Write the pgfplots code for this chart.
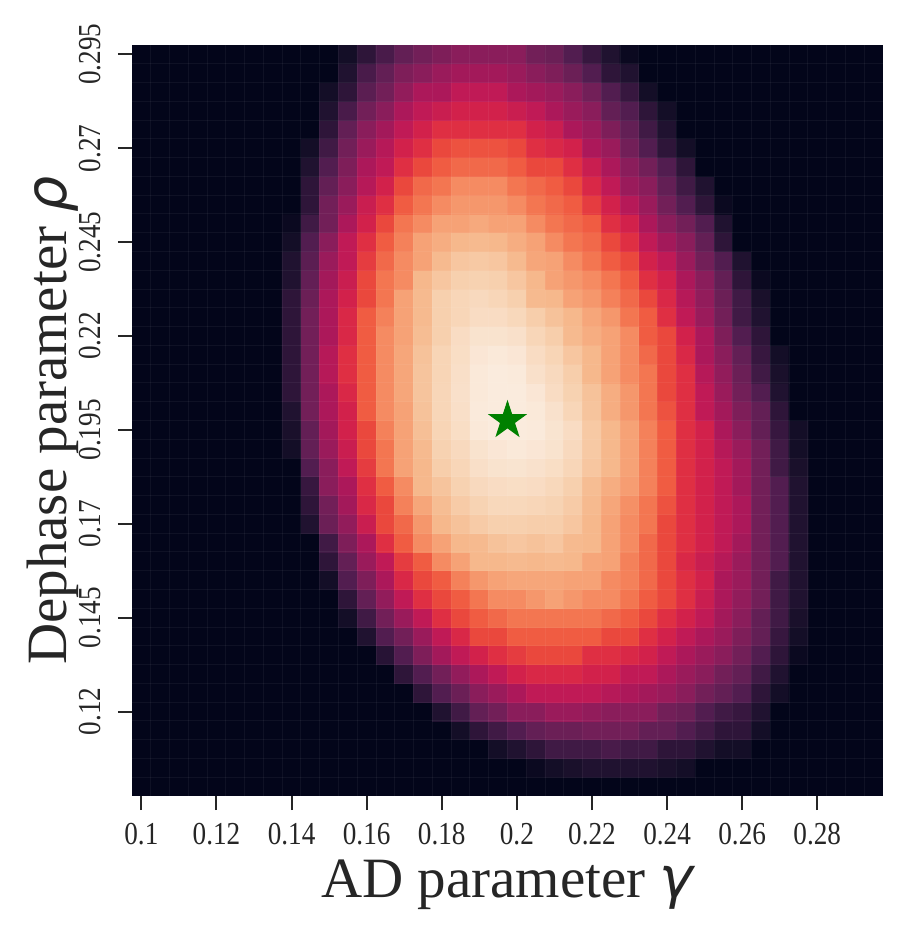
\documentclass[border=0pt]{standalone}
\usepackage{fontspec}
\usepackage{pgfplots}
\pgfplotsset{compat=1.18}
\setmainfont{Liberation Serif}
\newfontfamily\tickfont[FakeStretch=0.85]{Liberation Serif}
\newfontfamily\greekfont{DejaVu Sans}
\definecolor{txt}{HTML}{262626}
\definecolor{bgdark}{RGB}{3,5,26}
\definecolor{stargreen}{HTML}{008000}
\pgfdeclareplotmark{fstar}{%
 \pgfpathmoveto{\pgfpointpolar{90}{\pgfplotmarksize}}%
 \pgfpathlineto{\pgfpointpolar{126}{0.382\pgfplotmarksize}}%
 \pgfpathlineto{\pgfpointpolar{162}{\pgfplotmarksize}}%
 \pgfpathlineto{\pgfpointpolar{198}{0.382\pgfplotmarksize}}%
 \pgfpathlineto{\pgfpointpolar{234}{\pgfplotmarksize}}%
 \pgfpathlineto{\pgfpointpolar{270}{0.382\pgfplotmarksize}}%
 \pgfpathlineto{\pgfpointpolar{306}{\pgfplotmarksize}}%
 \pgfpathlineto{\pgfpointpolar{342}{0.382\pgfplotmarksize}}%
 \pgfpathlineto{\pgfpointpolar{18}{\pgfplotmarksize}}%
 \pgfpathlineto{\pgfpointpolar{54}{0.382\pgfplotmarksize}}%
 \pgfpathclose
 \pgfusepathqfillstroke
}
\begin{document}
\begin{tikzpicture}
\useasboundingbox (-66pt,-65.5pt) rectangle (384pt,398pt);
\begin{axis}[
  at={(0,0)}, anchor=south west,
  scale only axis, width=375.5pt, height=375.5pt,
  xmin=-0.5, xmax=39.5, ymin=-0.5, ymax=39.5,
  enlargelimits=false,
  axis background/.style={fill=bgdark},
  axis line style={draw=none},
  colormap={rocket}{rgb255=(3,5,26) rgb255=(20,14,39) rgb255=(32,18,48) rgb255=(46,21,57) rgb255=(64,26,69) rgb255=(82,29,80) rgb255=(99,31,85) rgb255=(114,31,88) rgb255=(138,29,91) rgb255=(154,27,91) rgb255=(172,24,90) rgb255=(192,26,86) rgb255=(210,33,75) rgb255=(223,47,67) rgb255=(234,72,61) rgb255=(240,92,66) rgb255=(243,118,81) rgb255=(245,139,98) rgb255=(246,162,118) rgb255=(246,184,140) rgb255=(247,208,174) rgb255=(249,223,200) rgb255=(250,235,221)},
  point meta min=0, point meta max=22,
  xtick={0,4,...,36},
  xticklabels={0.1,0.12,0.14,0.16,0.18,0.2,0.22,0.24,0.26,0.28},
  ytick={4,9,...,39},
  yticklabels={0.12,0.145,0.17,0.195,0.22,0.245,0.27,0.295},
  minor xtick={0.5,1.5,...,38.5},
  minor ytick={0.5,1.5,...,38.5},
  minor tick length=0pt,
  xminorgrids=true, yminorgrids=true,
  minor grid style={white, opacity=0.05, line width=0.5pt},
  tick align=outside,
  tick pos=left,
  major tick length=7pt,
  tick style={color=txt, line width=1pt},
  axis on top,
  ticklabel style={font=\tickfont\fontsize{16}{16}\selectfont, text=txt},
  yticklabel style={rotate=90, anchor=south},
  xticklabel style={anchor=north},
  xticklabel shift=3pt,
  yticklabel shift=5pt,
  xlabel={AD parameter {\greekfont\itshape γ}},
  ylabel={Dephase parameter {\greekfont\itshape ρ}},
  label style={font=\fontsize{28.5}{30}\selectfont, text=txt},
  xlabel style={at={(axis description cs:0.5,-0.1358)}, anchor=base},
  ylabel style={at={(axis description cs:-0.0866,0.5)}, rotate=0, anchor=base},
]
\addplot[matrix plot*, mesh/cols=28, point meta=explicit] table[meta=v, row sep=\\] {
x y v\\
8 1 0\\9 1 0\\10 1 0\\11 1 0\\12 1 0\\13 1 0\\14 1 0\\15 1 0\\16 1 0\\17 1 0\\18 1 0\\19 1 0\\20 1 0\\21 1 0.5\\22 1 1\\23 1 1.5\\24 1 2\\25 1 2\\26 1 2\\27 1 2\\28 1 1.5\\29 1 1\\30 1 0\\31 1 0\\32 1 0\\33 1 0\\34 1 0\\35 1 0\\
8 2 0\\9 2 0\\10 2 0\\11 2 0\\12 2 0\\13 2 0\\14 2 0\\15 2 0\\16 2 0\\17 2 0\\18 2 0\\19 2 1\\20 2 2\\21 2 3\\22 2 4\\23 2 4\\24 2 4\\25 2 4.5\\26 2 4\\27 2 4\\28 2 3\\29 2 3\\30 2 2\\31 2 1\\32 2 1\\33 2 0\\34 2 0\\35 2 0\\
8 3 0\\9 3 0\\10 3 0\\11 3 0\\12 3 0\\13 3 0\\14 3 0\\15 3 0\\16 3 0\\17 3 1\\18 3 3\\19 3 4\\20 3 5\\21 3 6\\22 3 6.5\\23 3 6.5\\24 3 7\\25 3 7\\26 3 7\\27 3 6\\28 3 6\\29 3 5\\30 3 4\\31 3 3\\32 3 3\\33 3 1\\34 3 0\\35 3 0\\
8 4 0\\9 4 0\\10 4 0\\11 4 0\\12 4 0\\13 4 0\\14 4 0\\15 4 0\\16 4 2\\17 4 4\\18 4 6\\19 4 7\\20 4 8\\21 4 8\\22 4 9\\23 4 9\\24 4 8.5\\25 4 8\\26 4 8\\27 4 8\\28 4 7\\29 4 6.5\\30 4 5\\31 4 4\\32 4 3.5\\33 4 2\\34 4 0\\35 4 0\\
8 5 0\\9 5 0\\10 5 0\\11 5 0\\12 5 0\\13 5 0\\14 5 0\\15 5 3\\16 5 5\\17 5 6.5\\18 5 8\\19 5 9\\20 5 10\\21 5 11\\22 5 11\\23 5 11\\24 5 11\\25 5 10.5\\26 5 10\\27 5 9.5\\28 5 9\\29 5 8\\30 5 7\\31 5 6\\32 5 5\\33 5 3\\34 5 1\\35 5 0\\
8 6 0\\9 6 0\\10 6 0\\11 6 0\\12 6 0\\13 6 0\\14 6 3\\15 6 5\\16 6 7\\17 6 8.5\\18 6 10\\19 6 11\\20 6 12\\21 6 12.5\\22 6 12.5\\23 6 12.5\\24 6 12\\25 6 12\\26 6 11\\27 6 11\\28 6 10\\29 6 9\\30 6 8\\31 6 7\\32 6 6\\33 6 4\\34 6 2\\35 6 0\\
8 7 0\\9 7 0\\10 7 0\\11 7 0\\12 7 0\\13 7 2.5\\14 7 5\\15 7 7.5\\16 7 9.5\\17 7 11\\18 7 12\\19 7 13\\20 7 13.5\\21 7 14\\22 7 14\\23 7 14\\24 7 13\\25 7 13\\26 7 12.5\\27 7 12\\28 7 11\\29 7 10\\30 7 9\\31 7 8\\32 7 7\\33 7 5\\34 7 3\\35 7 0.5\\
8 8 0\\9 8 0\\10 8 0\\11 8 0\\12 8 2\\13 8 5\\14 8 7\\15 8 9\\16 8 11\\17 8 12.5\\18 8 14\\19 8 14\\20 8 15\\21 8 15\\22 8 15\\23 8 15\\24 8 15\\25 8 14\\26 8 14\\27 8 13\\28 8 12\\29 8 11\\30 8 10\\31 8 9\\32 8 7.5\\33 8 6\\34 8 3.5\\35 8 1\\
8 9 0\\9 9 0\\10 9 0\\11 9 1\\12 9 4\\13 9 7\\14 9 9\\15 9 11\\16 9 13\\17 9 14\\18 9 15\\19 9 15.5\\20 9 16\\21 9 16\\22 9 16\\23 9 16\\24 9 16\\25 9 15.5\\26 9 15\\27 9 14\\28 9 13\\29 9 12\\30 9 11\\31 9 9.5\\32 9 8\\33 9 6\\34 9 4\\35 9 1.5\\
8 10 0\\9 10 0\\10 10 0\\11 10 3\\12 10 6\\13 10 8.5\\14 10 11\\15 10 13\\16 10 14\\17 10 15\\18 10 16\\19 10 17\\20 10 17\\21 10 17.5\\22 10 18\\23 10 17.5\\24 10 17\\25 10 17\\26 10 16\\27 10 15\\28 10 14\\29 10 13\\30 10 11.5\\31 10 10\\32 10 8.5\\33 10 7\\34 10 4\\35 10 2\\
8 11 0\\9 11 0\\10 11 1\\11 11 5\\12 11 7.5\\13 11 10\\14 11 12.5\\15 11 14\\16 11 15\\17 11 16.5\\18 11 17.5\\19 11 18\\20 11 18.2\\21 11 18.2\\22 11 18.2\\23 11 18\\24 11 18\\25 11 17\\26 11 16.5\\27 11 15.5\\28 11 14\\29 11 13\\30 11 12\\31 11 10\\32 11 9\\33 11 7\\34 11 4\\35 11 2\\
8 12 0\\9 12 0\\10 12 3\\11 12 6\\12 12 9\\13 12 11\\14 12 13.5\\15 12 15\\16 12 17\\17 12 18\\18 12 19\\19 12 19\\20 12 19.1\\21 12 19\\22 12 19.1\\23 12 19\\24 12 18.2\\25 12 18\\26 12 16.5\\27 12 15.5\\28 12 14\\29 12 12.5\\30 12 11.5\\31 12 10.5\\32 12 9\\33 12 7\\34 12 5\\35 12 2\\
8 13 0\\9 13 0\\10 13 4\\11 13 7.5\\12 13 10\\13 13 13\\14 13 15\\15 13 17\\16 13 18\\17 13 19\\18 13 19.1\\19 13 19.4\\20 13 19.6\\21 13 19.4\\22 13 19.6\\23 13 19.1\\24 13 19\\25 13 18\\26 13 17\\27 13 15.5\\28 13 14\\29 13 13\\30 13 12\\31 13 11\\32 13 9.5\\33 13 7\\34 13 5\\35 13 2\\
8 14 0\\9 14 2\\10 14 6.5\\11 14 8.5\\12 14 11.5\\13 14 14\\14 14 15.5\\15 14 17.5\\16 14 19\\17 14 19.4\\18 14 19.8\\19 14 20\\20 14 20\\21 14 19.9\\22 14 19.9\\23 14 19.6\\24 14 19\\25 14 18\\26 14 17\\27 14 16\\28 14 14\\29 14 13\\30 14 12\\31 14 11\\32 14 10\\33 14 7\\34 14 5\\35 14 2\\
8 15 0\\9 15 3\\10 15 7\\11 15 9.5\\12 15 12.5\\13 15 14\\14 15 16.5\\15 15 18.2\\16 15 19.2\\17 15 19.8\\18 15 20.2\\19 15 20.5\\20 15 20.5\\21 15 20.4\\22 15 20.2\\23 15 19.8\\24 15 19.1\\25 15 18.2\\26 15 17.2\\27 15 16\\28 15 14.5\\29 15 13\\30 15 12\\31 15 11\\32 15 10\\33 15 7\\34 15 5\\35 15 2\\
8 16 0\\9 16 3.5\\10 16 8\\11 16 10\\12 16 13\\13 16 15\\14 16 17\\15 16 19\\16 16 19.5\\17 16 20.1\\18 16 20.6\\19 16 20.8\\20 16 20.9\\21 16 20.8\\22 16 20.5\\23 16 20\\24 16 19.2\\25 16 18.5\\26 16 17.8\\27 16 16.5\\28 16 15\\29 16 13\\30 16 12\\31 16 11\\32 16 9.5\\33 16 7\\34 16 5\\35 16 2\\
8 17 0\\9 17 5\\10 17 8\\11 17 11\\12 17 13.5\\13 17 16\\14 17 18\\15 17 19\\16 17 19.9\\17 17 20.4\\18 17 21\\19 17 21.3\\20 17 21.4\\21 17 21.2\\22 17 20.9\\23 17 20.4\\24 17 19.6\\25 17 19\\26 17 18\\27 17 16.5\\28 17 15\\29 17 13\\30 17 12\\31 17 11\\32 17 9.5\\33 17 7\\34 17 4\\35 17 1.5\\
8 18 1\\9 18 6\\10 18 9\\11 18 11.5\\12 18 14\\13 18 16\\14 18 18\\15 18 19.1\\16 18 20.1\\17 18 20.6\\18 18 21.3\\19 18 21.6\\20 18 21.8\\21 18 21.6\\22 18 21.3\\23 18 20.6\\24 18 19.7\\25 18 19\\26 18 18\\27 18 16.5\\28 18 15\\29 18 13\\30 18 12\\31 18 10.5\\32 18 9\\33 18 7\\34 18 4\\35 18 1\\
8 19 1.5\\9 19 6\\10 19 9.5\\11 19 12\\12 19 14\\13 19 16.5\\14 19 18\\15 19 19.3\\16 19 20.3\\17 19 20.9\\18 19 21.8\\19 19 22\\20 19 22\\21 19 21.9\\22 19 21.4\\23 19 20.8\\24 19 19.7\\25 19 19\\26 19 18\\27 19 16.5\\28 19 15\\29 19 13\\30 19 12\\31 19 10\\32 19 8\\33 19 6\\34 19 3.5\\35 19 1\\
8 20 2\\9 20 7\\10 20 10\\11 20 12\\12 20 15\\13 20 17\\14 20 18\\15 20 19.4\\16 20 20.4\\17 20 21\\18 20 21.9\\19 20 22\\20 20 22\\21 20 21.8\\22 20 21.2\\23 20 20.4\\24 20 19.5\\25 20 18.5\\26 20 17.5\\27 20 16\\28 20 14.5\\29 20 13\\30 20 11\\31 20 9.5\\32 20 7.5\\33 20 6\\34 20 3\\35 20 0\\
8 21 3\\9 21 7\\10 21 10\\11 21 12.5\\12 21 15\\13 21 17\\14 21 18.2\\15 21 19.5\\16 21 20.4\\17 21 21.1\\18 21 21.8\\19 21 22\\20 21 22\\21 21 21.6\\22 21 20.8\\23 21 20.1\\24 21 19.4\\25 21 18.5\\26 21 17.5\\27 21 16\\28 21 14\\29 21 13\\30 21 11\\31 21 9\\32 21 7\\33 21 5\\34 21 2\\35 21 0\\
8 22 3\\9 22 7\\10 22 10.5\\11 22 13\\12 22 15\\13 22 17\\14 22 18.2\\15 22 19.5\\16 22 20.3\\17 22 21\\18 22 21.8\\19 22 22\\20 22 21.9\\21 22 21.1\\22 22 20.6\\23 22 19.9\\24 22 19\\25 22 18\\26 22 17\\27 22 16\\28 22 14\\29 22 13\\30 22 10.5\\31 22 8.5\\32 22 6.5\\33 22 4\\34 22 1.5\\35 22 0\\
8 23 3\\9 23 7\\10 23 10.5\\11 23 13\\12 23 15\\13 23 17\\14 23 18.2\\15 23 19.4\\16 23 20.3\\17 23 20.9\\18 23 21.6\\19 23 21.8\\20 23 21.6\\21 23 20.8\\22 23 20.3\\23 23 19.6\\24 23 19\\25 23 18\\26 23 17\\27 23 15.5\\28 23 14\\29 23 12.5\\30 23 10\\31 23 8\\32 23 6\\33 23 3.5\\34 23 1\\35 23 0\\
8 24 3\\9 24 7\\10 24 10\\11 24 12.5\\12 24 15\\13 24 17\\14 24 18\\15 24 19.2\\16 24 20\\17 24 20.8\\18 24 21.3\\19 24 21.3\\20 24 21.1\\21 24 20.4\\22 24 19.9\\23 24 19.1\\24 24 18.5\\25 24 18\\26 24 17\\27 24 15\\28 24 14\\29 24 12\\30 24 10\\31 24 7.5\\32 24 5\\33 24 3\\34 24 0\\35 24 0\\
8 25 3\\9 25 7\\10 25 10\\11 25 12.5\\12 25 15\\13 25 16.5\\14 25 18\\15 25 19.1\\16 25 20\\17 25 20.4\\18 25 20.8\\19 25 20.8\\20 25 20.5\\21 25 19.9\\22 25 19.4\\23 25 19\\24 25 18.2\\25 25 17.5\\26 25 16\\27 25 15\\28 25 13\\29 25 11\\30 25 9\\31 25 7\\32 25 4\\33 25 2\\34 25 0\\35 25 0\\
8 26 3\\9 26 6.5\\10 26 10\\11 26 12\\12 26 14\\13 26 16\\14 26 18\\15 26 19.1\\16 26 20\\17 26 20.4\\18 26 20.6\\19 26 20.4\\20 26 20\\21 26 19.1\\22 26 19\\23 26 18\\24 26 17.5\\25 26 16.5\\26 26 15.5\\27 26 14\\28 26 12.5\\29 26 10.5\\30 26 8.5\\31 26 6.5\\32 26 4\\33 26 1.5\\34 26 0\\35 26 0\\
8 27 2\\9 27 6\\10 27 9.5\\11 27 11.5\\12 27 14\\13 27 16\\14 27 17\\15 27 19\\16 27 19.6\\17 27 20\\18 27 20.1\\19 27 20\\20 27 19.6\\21 27 19\\22 27 18\\23 27 17.5\\24 27 17\\25 27 16\\26 27 15\\27 27 13\\28 27 12\\29 27 10\\30 27 8\\31 27 6\\32 27 3\\33 27 0.5\\34 27 0\\35 27 0\\
8 28 2\\9 28 5.5\\10 28 9\\11 28 11\\12 28 13.5\\13 28 15.5\\14 28 17\\15 28 18\\16 28 19.1\\17 28 19.6\\18 28 19.7\\19 28 19.6\\20 28 19.1\\21 28 18.2\\22 28 18\\23 28 17\\24 28 16\\25 28 15\\26 28 14\\27 28 12\\28 28 11\\29 28 9\\30 28 7\\31 28 5\\32 28 2\\33 28 0\\34 28 0\\35 28 0\\
8 29 1\\9 29 5\\10 29 8\\11 29 11\\12 29 13\\13 29 15\\14 29 16.5\\15 29 18\\16 29 18.5\\17 29 19\\18 29 19.1\\19 29 19\\20 29 18.5\\21 29 18\\22 29 17\\23 29 16\\24 29 15.5\\25 29 14\\26 29 13\\27 29 11\\28 29 9.5\\29 29 8\\30 29 6\\31 29 3\\32 29 0\\33 29 0\\34 29 0\\35 29 0\\
8 30 0.5\\9 30 4\\10 30 7\\11 30 10\\12 30 12\\13 30 14\\14 30 16\\15 30 17\\16 30 18\\17 30 18\\18 30 18.3\\19 30 18\\20 30 18\\21 30 17\\22 30 16\\23 30 15.5\\24 30 15\\25 30 13\\26 30 12\\27 30 10\\28 30 8\\29 30 7\\30 30 5\\31 30 2\\32 30 0\\33 30 0\\34 30 0\\35 30 0\\
8 31 0\\9 31 3\\10 31 7\\11 31 9\\12 31 11.5\\13 31 13\\14 31 15\\15 31 16\\16 31 17\\17 31 17.5\\18 31 17.5\\19 31 17.5\\20 31 17\\21 31 16\\22 31 15.5\\23 31 15\\24 31 13.5\\25 31 12\\26 31 10.5\\27 31 9\\28 31 7\\29 31 5\\30 31 3\\31 31 0.5\\32 31 0\\33 31 0\\34 31 0\\35 31 0\\
8 32 0\\9 32 3\\10 32 6\\11 32 8\\12 32 10.5\\13 32 12\\14 32 14\\15 32 15.5\\16 32 16\\17 32 17\\18 32 17\\19 32 17\\20 32 16\\21 32 15.5\\22 32 15\\23 32 14\\24 32 12.5\\25 32 11\\26 32 9\\27 32 8\\28 32 6\\29 32 4\\30 32 2\\31 32 0\\32 32 0\\33 32 0\\34 32 0\\35 32 0\\
8 33 0\\9 33 2\\10 33 5\\11 33 7.5\\12 33 10\\13 33 11\\14 33 13\\15 33 14\\16 33 15\\17 33 15.5\\18 33 15.5\\19 33 15.5\\20 33 15\\21 33 14\\22 33 14\\23 33 13\\24 33 11.5\\25 33 10\\26 33 8\\27 33 7\\28 33 5\\29 33 3\\30 33 0\\31 33 0\\32 33 0\\33 33 0\\34 33 0\\35 33 0\\
8 34 0\\9 34 1\\10 34 4\\11 34 7\\12 34 9\\13 34 10.5\\14 34 12\\15 34 13\\16 34 14\\17 34 14.5\\18 34 14.5\\19 34 14.5\\20 34 14\\21 34 13\\22 34 12.5\\23 34 12\\24 34 10\\25 34 9\\26 34 7\\27 34 5\\28 34 3\\29 34 1\\30 34 0\\31 34 0\\32 34 0\\33 34 0\\34 34 0\\35 34 0\\
8 35 0\\9 35 0\\10 35 3\\11 35 6\\12 35 8\\13 35 9.5\\14 35 11\\15 35 12\\16 35 13\\17 35 13\\18 35 13\\19 35 13\\20 35 13\\21 35 12\\22 35 11.5\\23 35 10\\24 35 9\\25 35 7.5\\26 35 6\\27 35 4\\28 35 2\\29 35 0\\30 35 0\\31 35 0\\32 35 0\\33 35 0\\34 35 0\\35 35 0\\
8 36 0\\9 36 0\\10 36 2\\11 36 4.5\\12 36 7\\13 36 8\\14 36 10\\15 36 11\\16 36 11.5\\17 36 12\\18 36 12\\19 36 12\\20 36 11.5\\21 36 11\\22 36 10\\23 36 9\\24 36 8\\25 36 6\\26 36 5\\27 36 3\\28 36 1\\29 36 0\\30 36 0\\31 36 0\\32 36 0\\33 36 0\\34 36 0\\35 36 0\\
8 37 0\\9 37 0\\10 37 1\\11 37 3\\12 37 5.5\\13 37 7\\14 37 8.5\\15 37 10\\16 37 10\\17 37 11\\18 37 11\\19 37 11\\20 37 10\\21 37 9.5\\22 37 9\\23 37 8\\24 37 7\\25 37 5\\26 37 3.5\\27 37 1\\28 37 0\\29 37 0\\30 37 0\\31 37 0\\32 37 0\\33 37 0\\34 37 0\\35 37 0\\
8 38 0\\9 38 0\\10 38 0\\11 38 2\\12 38 4.5\\13 38 6\\14 38 7.5\\15 38 8\\16 38 9\\17 38 9.5\\18 38 9.5\\19 38 9.5\\20 38 9\\21 38 8\\22 38 7.5\\23 38 6.5\\24 38 5\\25 38 3\\26 38 2\\27 38 0\\28 38 0\\29 38 0\\30 38 0\\31 38 0\\32 38 0\\33 38 0\\34 38 0\\35 38 0\\
8 39 0\\9 39 0\\10 39 0\\11 39 1\\12 39 3\\13 39 4.5\\14 39 6\\15 39 7\\16 39 7.5\\17 39 8\\18 39 8\\19 39 8\\20 39 8\\21 39 7\\22 39 6.5\\23 39 5\\24 39 3.5\\25 39 2\\26 39 0.5\\27 39 0\\28 39 0\\29 39 0\\30 39 0\\31 39 0\\32 39 0\\33 39 0\\34 39 0\\35 39 0\\
};
\addplot[only marks, mark=fstar, mark size=9.5pt, color=stargreen, mark options={fill=stargreen, draw=stargreen, line width=0.5pt}] coordinates {(19.5,19.5)};
\end{axis}
\end{tikzpicture}
\end{document}
